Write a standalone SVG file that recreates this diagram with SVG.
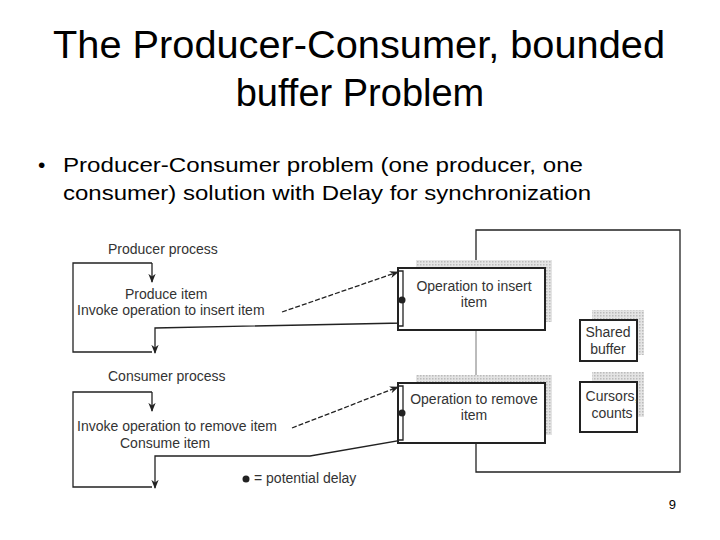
<svg xmlns="http://www.w3.org/2000/svg" width="720" height="540" viewBox="0 0 720 540">
<defs>
<style>
.t{font-family:"Liberation Sans",Arial,sans-serif;fill:#000}
.d{font-family:"Liberation Sans",Arial,sans-serif;fill:#333;font-size:14px}
.ln{stroke:#222;stroke-width:1.3;fill:none}
.box{fill:#fff;stroke:#222;stroke-width:2}
</style>
<pattern id="dots" width="3" height="3" patternUnits="userSpaceOnUse"><rect width="3" height="3" fill="#e4e4e4"/><rect width="1.5" height="1.5" fill="#bbb"/></pattern>
<marker id="ah" viewBox="0 0 10 10" refX="9" refY="5" markerWidth="7" markerHeight="7" orient="auto"><path d="M0,1 L10,5 L0,9 L3,5z" fill="#222"/></marker>
</defs>
<rect width="720" height="540" fill="#fff"/>
<text class="t" x="359" y="58" font-size="38" text-anchor="middle" textLength="612" lengthAdjust="spacingAndGlyphs">The Producer-Consumer, bounded</text>
<text class="t" x="360" y="106" font-size="38" text-anchor="middle">buffer Problem</text>
<text class="t" x="38" y="172" font-size="21">•</text>
<text class="t" x="63" y="172" font-size="21" textLength="520" lengthAdjust="spacingAndGlyphs">Producer-Consumer problem (one producer, one</text>
<text class="t" x="63" y="178" font-size="21" dy="22" textLength="528" lengthAdjust="spacingAndGlyphs">consumer) solution with Delay for synchronization</text>
<text class="t" x="676" y="509" font-size="13" text-anchor="end">9</text>
<g id="connectors">
<path class="ln" d="M476,268 V230 H680 V472 H476 V443"/>
<path d="M476,330 V383" stroke="#555" stroke-width="0.8"/>
<path class="ln" d="M152,263 H73 V352 H152"/>
<path class="ln" d="M152,263 V282" marker-end="url(#ah)"/>
<path class="ln" d="M403,270 V323 L155,328 V353" marker-end="url(#ah)"/>
<path class="ln" d="M282,312 L398,272" stroke-dasharray="5,2" marker-end="url(#ah)"/>
<path class="ln" d="M152,392 H73 V487 H152"/>
<path class="ln" d="M152,392 V411" marker-end="url(#ah)"/>
<path class="ln" d="M403,386 V440 L310,456 H155 V488" marker-end="url(#ah)"/>
<path class="ln" d="M292,428 L398,387" stroke-dasharray="5,2" marker-end="url(#ah)"/>
</g>
<g id="producer">
<text class="d" x="108" y="254">Producer process</text>
<text class="d" x="125" y="299">Produce item</text>
<text class="d" x="77" y="315">Invoke operation to insert item</text>
</g>
<g id="consumer">
<text class="d" x="108" y="381">Consumer process</text>
<text class="d" x="77" y="431">Invoke operation to remove item</text>
<text class="d" x="120" y="448">Consume item</text>
</g>
<g id="insert">
<rect x="416" y="260" width="136" height="62" fill="url(#dots)"/>
<rect class="box" x="398" y="268" width="147" height="62"/>
<path d="M398,271 H403 V326 H398" class="ln"/>
<circle cx="402" cy="300" r="3.5" fill="#222"/>
<text class="d" x="474" y="291" text-anchor="middle">Operation to insert</text>
<text class="d" x="474" y="307" text-anchor="middle">item</text>
</g>
<g id="remove">
<rect x="416" y="375" width="136" height="60" fill="url(#dots)"/>
<rect class="box" x="398" y="383" width="147" height="60"/>
<path d="M398,386 H403 V440 H398" class="ln"/>
<circle cx="402" cy="413" r="3.5" fill="#222"/>
<text class="d" x="474" y="404" text-anchor="middle">Operation to remove</text>
<text class="d" x="474" y="420" text-anchor="middle">item</text>
</g>
<g id="buffer">
<rect x="592" y="310" width="52" height="45" fill="url(#dots)"/>
<rect class="box" x="580" y="320" width="57" height="41"/>
<text class="d" x="608" y="337" text-anchor="middle">Shared</text>
<text class="d" x="608" y="354" text-anchor="middle">buffer</text>
</g>
<g id="cursors">
<rect x="592" y="372" width="52" height="45" fill="url(#dots)"/>
<rect class="box" x="580" y="382" width="57" height="50"/>
<text class="d" x="612" y="401" text-anchor="middle">Cursors,</text>
<text class="d" x="612" y="418" text-anchor="middle">counts</text>
</g>
<g id="legend">
<circle cx="246" cy="479" r="3.5" fill="#222"/>
<text class="d" x="254" y="483">= potential delay</text>
</g>
</svg>
